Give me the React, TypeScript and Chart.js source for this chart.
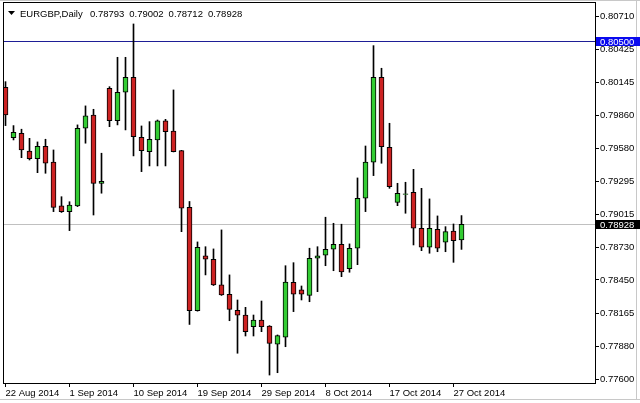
import React, { useEffect, useRef } from 'react';
import { Chart, registerables } from 'chart.js';

Chart.register(...registerables);

const symbolTitle = 'EURGBP,Daily';

const opens = [
  0.80103, 0.79671, 0.79708, 0.79556, 0.7949, 0.79597, 0.7946, 0.79085, 0.79036, 0.79085,
  0.79751, 0.79865, 0.79279, 0.80094, 0.79816, 0.8006, 0.80189, 0.79674, 0.7955, 0.79651,
  0.79814, 0.79728, 0.79559, 0.79073, 0.78186, 0.78656, 0.78627, 0.78407, 0.78327, 0.7819,
  0.78149, 0.78049, 0.78106, 0.78055, 0.77898, 0.77958, 0.7843, 0.78364, 0.78318, 0.78636,
  0.78662, 0.78713, 0.78756, 0.78546, 0.78722, 0.79151, 0.7946, 0.80189, 0.79588, 0.79116,
  0.79183, 0.79202, 0.78893, 0.7873, 0.78885, 0.78773, 0.7887, 0.78793,
];
const highs = [
  0.80151, 0.79774, 0.79743, 0.79665, 0.79634, 0.79657, 0.79565, 0.79164, 0.79121, 0.7978,
  0.79943, 0.79914, 0.79537, 0.80108, 0.8036, 0.8036, 0.80646, 0.79771, 0.79808, 0.79822,
  0.79828, 0.8008, 0.79562, 0.79123, 0.78776, 0.78735, 0.78716, 0.78879, 0.78493, 0.78278,
  0.78215, 0.78149, 0.78269, 0.78058, 0.77978, 0.78572, 0.78598, 0.78398, 0.78722, 0.78735,
  0.78988, 0.78936, 0.78928, 0.78759, 0.79325, 0.79599, 0.8046, 0.80266, 0.79794, 0.79279,
  0.79288, 0.79399, 0.79236, 0.79145, 0.78999, 0.78907, 0.7893, 0.79002,
];
const lows = [
  0.79774, 0.79651, 0.79499, 0.79479, 0.7937, 0.79365, 0.79036, 0.79029, 0.78873, 0.79079,
  0.79623, 0.79007, 0.79194, 0.79765, 0.7978, 0.79737, 0.79514, 0.79379, 0.79428, 0.79428,
  0.79428, 0.79548, 0.78864, 0.78068, 0.78182, 0.78493, 0.78402, 0.78317, 0.781, 0.77821,
  0.77969, 0.77969, 0.78006, 0.77634, 0.77654, 0.77877, 0.78178, 0.78278, 0.78263, 0.78349,
  0.78572, 0.78529, 0.78478, 0.78516, 0.78581, 0.79036, 0.79345, 0.79451, 0.79236, 0.79087,
  0.79022, 0.7875, 0.78701, 0.78679, 0.78692, 0.78692, 0.78601, 0.78712,
];
const closes = [
  0.79865, 0.79717, 0.79565, 0.7949, 0.79597, 0.79451, 0.79073, 0.79036, 0.79093, 0.79751,
  0.79857, 0.79279, 0.79296, 0.79816, 0.8006, 0.80189, 0.79679, 0.79559, 0.79657, 0.79814,
  0.79722, 0.7955, 0.79065, 0.78186, 0.7873, 0.78627, 0.78407, 0.78321, 0.78198, 0.78147,
  0.78006, 0.78106, 0.78049, 0.77906, 0.77972, 0.78432, 0.78327, 0.78327, 0.78636, 0.78656,
  0.78713, 0.78756, 0.78518, 0.78722, 0.79151, 0.7946, 0.80189, 0.79593, 0.7925, 0.79194,
  0.79189, 0.78893, 0.7873, 0.78893, 0.78722, 0.78864, 0.78787, 0.78928,
];

const dateTickIndex = [0, 8, 16, 24, 32, 40, 48, 56];
const dateTickLabels = [
  '22 Aug 2014', '1 Sep 2014', '10 Sep 2014', '19 Sep 2014',
  '29 Sep 2014', '8 Oct 2014', '17 Oct 2014', '27 Oct 2014',
];
const priceTicks = [
  0.8071, 0.80425, 0.80145, 0.7986, 0.7958, 0.79295, 0.79015, 0.7873, 0.7845, 0.78165, 0.7788, 0.776,
];
const hLinePrice = 0.805;

const FONT = '"Liberation Sans", Arial, sans-serif';
const BULL = '#33cc33';
const BEAR = '#cc2222';

export default function App() {
  const ref = useRef<HTMLCanvasElement>(null);

  useEffect(() => {
    document.body.style.margin = '0';
    const canvas = ref.current!;
    const n = closes.length;
    const last = n - 1;
    const bidPrice = closes[last];
    const headerValues = [opens[last], highs[last], lows[last], closes[last]].map((v) => v.toFixed(5));

    const plugin = {
      id: 'mt4look',
      beforeDraw(chart: any) {
        const ctx = chart.ctx;
        ctx.save();
        ctx.fillStyle = '#ffffff';
        ctx.fillRect(0, 0, chart.width, chart.height);
        ctx.strokeStyle = '#c8c8c8';
        ctx.lineWidth = 1;
        ctx.beginPath();
        ctx.moveTo(0, 0.5);
        ctx.lineTo(chart.width, 0.5);
        ctx.moveTo(636.5, 0);
        ctx.lineTo(636.5, 400);
        ctx.moveTo(0, 399.5);
        ctx.lineTo(chart.width, 399.5);
        ctx.stroke();
        ctx.restore();
      },
      beforeDatasetsDraw(chart: any) {
        const { ctx, chartArea: a, scales } = chart;
        const y = scales.y;
        ctx.save();
        ctx.lineWidth = 1;
        const yb = Math.round(y.getPixelForValue(bidPrice)) + 0.5;
        ctx.strokeStyle = '#c0c0c0';
        ctx.beginPath();
        ctx.moveTo(a.left, yb);
        ctx.lineTo(a.right, yb);
        ctx.stroke();
        const yl = Math.round(y.getPixelForValue(hLinePrice)) + 0.5;
        ctx.strokeStyle = '#1e1e96';
        ctx.beginPath();
        ctx.moveTo(a.left, yl);
        ctx.lineTo(a.right, yl);
        ctx.stroke();
        ctx.restore();
      },
      afterDraw(chart: any) {
        const { ctx, chartArea: a, scales } = chart;
        const y = scales.y;
        ctx.save();
        ctx.strokeStyle = '#000000';
        ctx.lineWidth = 1;
        ctx.strokeRect(a.left + 0.5, a.top + 0.5, a.right - a.left, a.bottom - a.top);
        ctx.fillStyle = '#000000';
        ctx.beginPath();
        ctx.moveTo(8, 11);
        ctx.lineTo(15, 11);
        ctx.lineTo(11.5, 15);
        ctx.closePath();
        ctx.fill();
        ctx.font = '9.5px ' + FONT;
        ctx.textBaseline = 'alphabetic';
        ctx.textAlign = 'left';
        ctx.fillText(symbolTitle, 20, 16.5);
        headerValues.forEach((t, k) => ctx.fillText(t, 90 + k * 39.3, 16.5));
        const boxes = [
          { price: hLinePrice, bg: '#0a0aee' },
          { price: bidPrice, bg: '#000000' },
        ];
        boxes.forEach((b) => {
          const py = Math.round(y.getPixelForValue(b.price)) + 0.5;
          ctx.fillStyle = b.bg;
          ctx.fillRect(a.right + 1, py - 4.5, chart.width - a.right - 1, 9);
          ctx.fillStyle = '#ffffff';
          ctx.textBaseline = 'middle';
          ctx.fillText(b.price.toFixed(5), a.right + 5, py + 0.5);
        });
        ctx.restore();
      },
    };

    const idx = closes.map((_, i) => i);
    const chart = new Chart(canvas, {
      type: 'bar',
      data: {
        datasets: [
          {
            label: 'wick',
            data: idx.map((i) => ({ x: i, y: [lows[i], highs[i]] })) as any,
            backgroundColor: '#000000',
            borderWidth: 0,
            barThickness: 1,
            grouped: false,
            order: 2,
          } as any,
          {
            label: 'body',
            data: idx.map((i) => ({ x: i, y: [opens[i], closes[i]] })) as any,
            backgroundColor: idx.map((i) => (closes[i] >= opens[i] ? BULL : BEAR)),
            borderColor: '#000000',
            borderWidth: 1,
            borderSkipped: false,
            barThickness: 5,
            grouped: false,
            order: 1,
          } as any,
        ],
      },
      options: {
        responsive: false,
        animation: false,
        events: [],
        layout: { padding: { left: 3, top: 2, right: 0, bottom: 0 } },
        plugins: { legend: { display: false }, tooltip: { enabled: false } },
        scales: {
          x: {
            type: 'linear',
            min: -0.3125,
            max: 73.6875,
            offset: false,
            position: 'bottom',
            border: { display: false },
            grid: { display: true, offset: false, drawOnChartArea: false, drawTicks: true, tickLength: 4, color: '#000000', tickColor: '#000000' },
            afterBuildTicks: (s: any) => {
              s.ticks = dateTickIndex.map((v) => ({ value: v }));
            },
            afterFit: (s: any) => {
              s.height = 20;
              s.paddingLeft = 0;
              s.paddingRight = 0;
            },
            ticks: {
              autoSkip: false,
              maxRotation: 0,
              minRotation: 0,
              align: 'start',
              padding: 1,
              color: '#000000',
              font: { family: FONT, size: 9.5 },
              callback: (v: any) => {
                const k = dateTickIndex.indexOf(Number(v));
                return k >= 0 ? dateTickLabels[k] : '';
              },
            },
          },
          y: {
            type: 'linear',
            position: 'right',
            min: 0.775657,
            max: 0.808344,
            border: { display: false },
            grid: { display: true, drawOnChartArea: false, drawTicks: true, tickLength: 4, color: '#000000', tickColor: '#000000' },
            afterBuildTicks: (s: any) => {
              s.ticks = priceTicks.map((v) => ({ value: v }));
            },
            afterFit: (s: any) => {
              s.width = 45;
              s.paddingTop = 0;
              s.paddingBottom = 0;
            },
            ticks: {
              autoSkip: false,
              padding: 1,
              color: '#000000',
              font: { family: FONT, size: 9.5 },
              callback: (v: any) => Number(v).toFixed(5),
            },
          },
        },
      } as any,
      plugins: [plugin],
    });
    return () => chart.destroy();
  }, []);

  return (
    <div style={{ width: 640, height: 403 }}>
      <canvas ref={ref} width={640} height={403} style={{ display: 'block' }} />
    </div>
  );
}
